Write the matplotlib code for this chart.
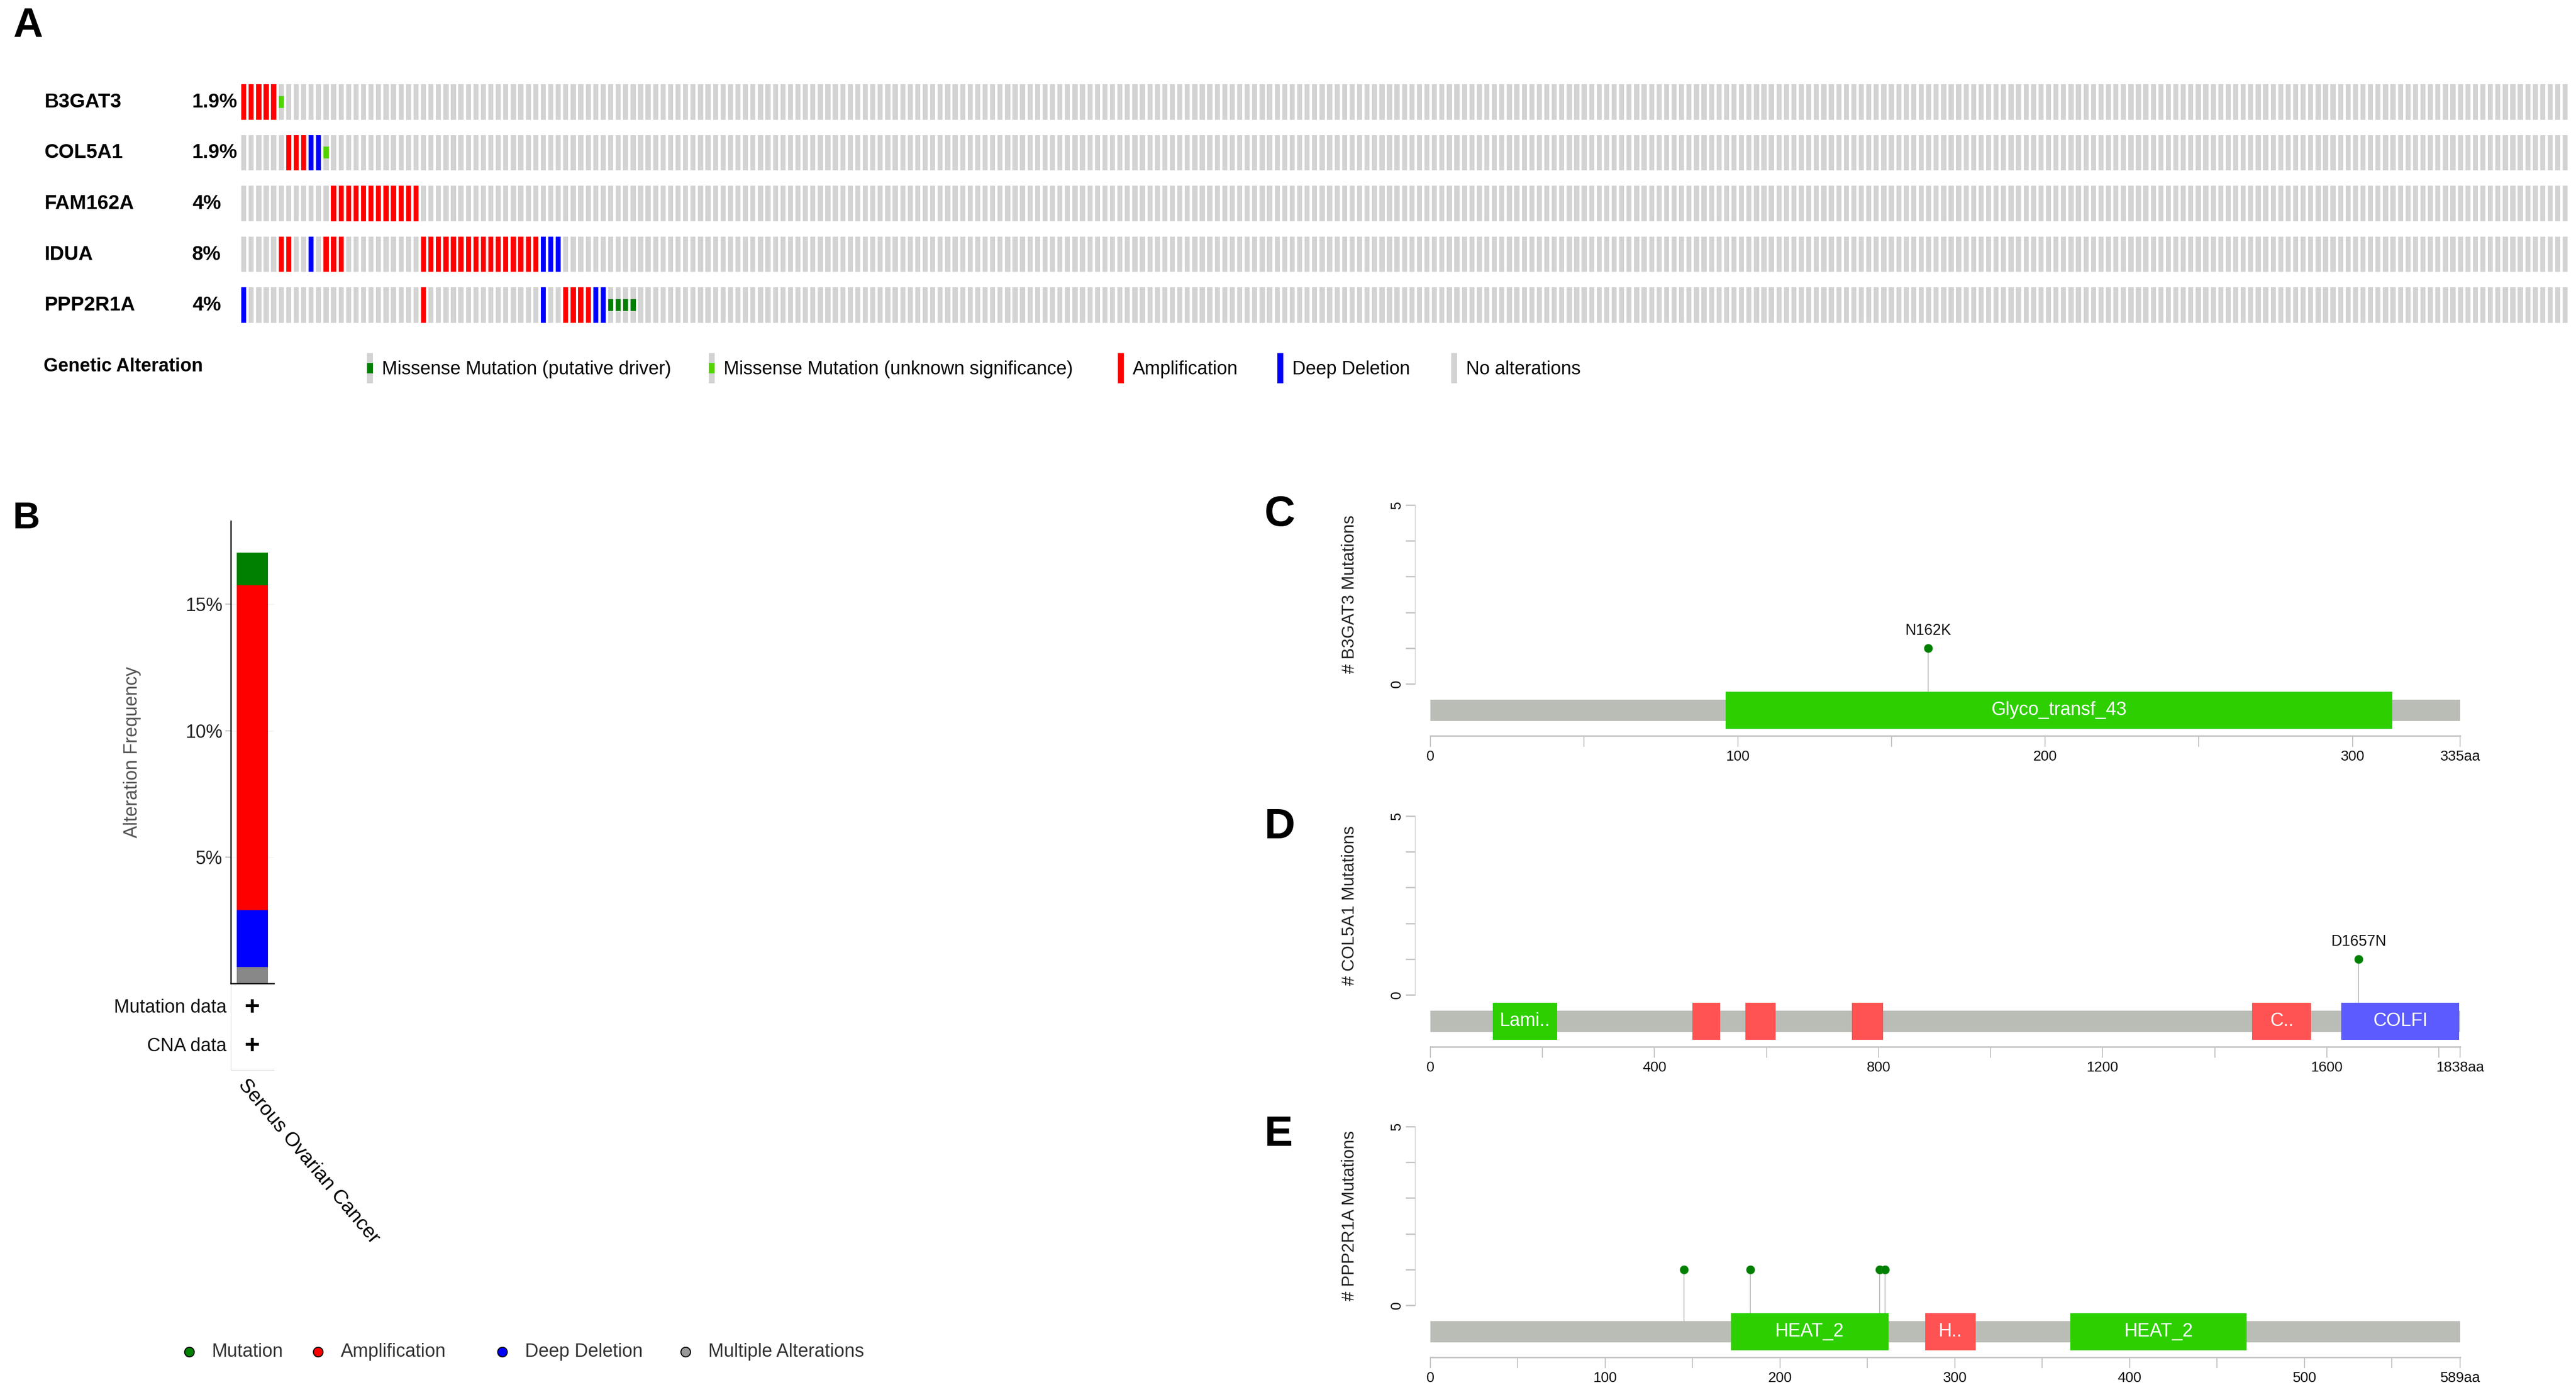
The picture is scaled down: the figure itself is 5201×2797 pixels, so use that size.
import numpy as np
import matplotlib
matplotlib.use('Agg')
from matplotlib import pyplot as plt
from matplotlib.patches import Rectangle

plt.rcParams['font.family'] = ['Liberation Sans', 'DejaVu Sans']

# ---------------- Panel A: oncoprint ----------------
genes = ['B3GAT3', 'COL5A1', 'FAM162A', 'IDUA', 'PPP2R1A']
porcentajes = ['1.9%', '1.9%', '4%', '8%', '4%']
n_muestras = 311
amplificacion = [[0, 1, 2, 3, 4],
                 [6, 7, 8],
                 list(range(12, 24)),
                 [5, 6, 11, 12, 13] + list(range(24, 40)),
                 [24, 43, 44, 45, 46]]
delecion = [[], [9, 10], [], [9, 40, 41, 42], [0, 40, 47, 48]]
mut_driver = [[], [], [], [], [49, 50, 51, 52]]
mut_vus = [[5], [11], [], [], []]

leyenda_a = ['Missense Mutation (putative driver)', 'Missense Mutation (unknown significance)',
             'Amplification', 'Deep Deletion', 'No alterations']

# ---------------- Panel B: resumen por tipo de cancer ----------------
tipos_resumen = ['Multiple Alterations', 'Deep Deletion', 'Amplification', 'Mutation']
frecuencias_resumen = [0.64, 2.25, 12.86, 1.29]   # % de 311 muestras
cancer = 'Serous Ovarian Cancer'
leyenda_b = ['Mutation', 'Amplification', 'Deep Deletion', 'Multiple Alterations']

# ---------------- Paneles C-E: lollipops ----------------
prot_genes = ['B3GAT3', 'COL5A1', 'PPP2R1A']
prot_longitud = [335, 1838, 589]
dominios = [
    [(96, 313, 'Glyco_transf_43')],
    [(111, 226, 'Lami..'), (468, 517, ''), (562, 616, ''), (752, 808, ''),
     (1467, 1572, 'C..'), (1626, 1836, 'COLFI')],
    [(172, 262, 'HEAT_2'), (283, 312, 'H..'), (366, 467, 'HEAT_2')],
]
mut_posiciones = [[162], [1657], [145, 183, 257, 260]]
mut_cuentas = [[1], [1], [1, 1, 1, 1]]
mut_etiquetas = [['N162K'], ['D1657N'], ['', '', '', '']]

# colores
GRIS = '#D3D3D3'
ROJO = '#FF0000'
AZUL = '#0000FF'
VERDE = '#008000'
VERDE_VUS = '#53D400'
colores_resumen = ['#888888', AZUL, ROJO, VERDE]
colores_leyenda_b = [VERDE, ROJO, AZUL, '#999999']
colores_dominio = [['#2DCF00'],
                   ['#2DCF00', '#FF5353', '#FF5353', '#FF5353', '#FF5353', '#5B5BFF'],
                   ['#2DCF00', '#FF5353', '#2DCF00']]

W, H = 5201, 2797
fig = plt.figure(figsize=(W / 100, H / 100), dpi=100)


def rect_px(izq, arriba, ancho, alto):
    return [izq / W, 1 - (arriba + alto) / H, ancho / W, alto / H]


# lienzo en pixeles para textos y leyendas
lienzo = fig.add_axes([0, 0, 1, 1])
lienzo.set_xlim(0, W)
lienzo.set_ylim(H, 0)
lienzo.axis('off')

# etiquetas de panel
for letra, x, y, tam in [('A', 27, 75, 60), ('B', 26, 1067, 55), ('C', 2552, 1062, 62),
                         ('D', 2552, 1693, 62), ('E', 2552, 2314, 62)]:
    lienzo.text(x, y, letra, fontsize=tam, fontweight='bold', ha='left', va='baseline')

# ---- A
ax_a = fig.add_axes(rect_px(487, 170, n_muestras * 15.12, 482))
alto_fila = 0.70
for r in range(len(genes)):
    colores = [GRIS] * n_muestras
    for i in amplificacion[r]:
        colores[i] = ROJO
    for i in delecion[r]:
        colores[i] = AZUL
    ax_a.bar(np.arange(n_muestras), alto_fila, bottom=r, width=0.68, align='edge', color=colores, lw=0)
    if mut_driver[r]:
        ax_a.bar(mut_driver[r], alto_fila / 3, bottom=r + alto_fila / 3, width=0.68, align='edge',
                 color=VERDE, lw=0)
    if mut_vus[r]:
        ax_a.bar(mut_vus[r], alto_fila / 3, bottom=r + alto_fila / 3, width=0.68, align='edge',
                 color=VERDE_VUS, lw=0)
    y_txt = 170 + (r + alto_fila / 2) * 102.55
    lienzo.text(89, y_txt, genes[r], fontsize=29, fontweight='bold', va='center')
    lienzo.text(388, y_txt, porcentajes[r], fontsize=29, fontweight='bold', va='center')
ax_a.set_xlim(0, n_muestras)
ax_a.set_ylim(len(genes) - 1 + alto_fila, 0)
ax_a.axis('off')

lienzo.text(88, 740, 'Genetic Alteration', fontsize=27, fontweight='bold', va='center')
glifo_x = [741, 1431, 2257, 2579, 2930]
glifo_col = [GRIS, GRIS, ROJO, AZUL, GRIS]
glifo_mut = [VERDE, VERDE_VUS, None, None, None]
for x, col, mcol, txt in zip(glifo_x, glifo_col, glifo_mut, leyenda_a):
    lienzo.add_patch(Rectangle((x, 713), 12, 61, color=col, lw=0))
    if mcol:
        lienzo.add_patch(Rectangle((x, 713 + 61 / 3), 12, 61 / 3, color=mcol, lw=0))
    lienzo.text(x + 30, 746, txt, fontsize=27, va='center')

# ---- B
ax_b = fig.add_axes(rect_px(466, 1052, 87, 934))
base = np.concatenate([[0], np.cumsum(frecuencias_resumen)[:-1]])
ax_b.bar([0] * len(frecuencias_resumen), frecuencias_resumen, bottom=base, width=0.724,
         color=colores_resumen, lw=0, zorder=2)
ax_b.set_xlim(-0.5, 0.5)
ax_b.set_ylim(0, 18.3)
ax_b.set_yticks([5, 10, 15])
ax_b.set_yticklabels(['5%', '10%', '15%'])
ax_b.set_xticks([])
ax_b.tick_params(axis='y', labelsize=27, colors='#bbbbbb', labelcolor='#222222', length=8, width=1.5, pad=4)
ax_b.yaxis.grid(color='#eeeeee', lw=1)
ax_b.set_axisbelow(True)
for lado in ['top', 'right']:
    ax_b.spines[lado].set_visible(False)
for lado in ['left', 'bottom']:
    ax_b.spines[lado].set_linewidth(1.8)
    ax_b.spines[lado].set_color('black')

lienzo.text(267, 1519, 'Alteration Frequency', fontsize=27, color='#555555', rotation=90,
            ha='center', va='center')
lienzo.text(457, 2035, 'Mutation data', fontsize=27, ha='right', va='center', color='#111111')
lienzo.text(457, 2113, 'CNA data', fontsize=27, ha='right', va='center', color='#111111')
lienzo.text(509, 2035, '+', fontsize=38, fontweight='bold', ha='center', va='center')
lienzo.text(509, 2113, '+', fontsize=38, fontweight='bold', ha='center', va='center')
lienzo.plot([466, 466, 553], [1986, 2161, 2161], color='#dddddd', lw=1)
lienzo.text(503, 2172, cancer, fontsize=29, rotation=-50, rotation_mode='anchor', ha='left', va='top')

for x, col, txt in zip([382, 642, 1014, 1384], colores_leyenda_b, leyenda_b):
    lienzo.plot(x, 2730, 'o', ms=14, mfc=col, mec='black', mew=1.5)
    lienzo.text(x + 46, 2730, txt, fontsize=27, color='#333333', va='center')

# ---- C, D, E
unidad = 72.2
ejes_y0 = [1381, 2009, 2636]
pasos = [(50, 100), (200, 400), (50, 100)]
for k in range(len(prot_genes)):
    y0 = ejes_y0[k]
    L = prot_longitud[k]
    ax = fig.add_axes(rect_px(2888, y0 - 5.3 * unidad, 4967 - 2888, 6.76 * unidad))
    ax.set_xlim(0, L)
    ax.set_ylim(-1.46, 5.3)
    ax.patch.set_alpha(0)
    ax.add_patch(Rectangle((0, -1.039), L, 0.596, color='#BABDB6', lw=0, zorder=1))
    for (ini, fin, nombre), col in zip(dominios[k], colores_dominio[k]):
        ax.add_patch(Rectangle((ini, -1.26), fin - ini, 1.038, color=col, lw=0, zorder=3))
        if nombre:
            ax.text((ini + fin) / 2, -0.74, nombre, color='white', fontsize=27,
                    ha='center', va='center', zorder=4)
    for pos, cnt, et in zip(mut_posiciones[k], mut_cuentas[k], mut_etiquetas[k]):
        fondo = -0.443
        for ini, fin, _ in dominios[k]:
            if ini <= pos <= fin:
                fondo = -0.222
        ax.plot([pos, pos], [fondo, cnt], color='#BBBBBB', lw=1.3, zorder=2)
        ax.plot(pos, cnt, 'o', ms=12, mfc=VERDE, mec='#1a8a1a', mew=0.8, zorder=5)
        if et:
            ax.text(pos, cnt + 0.48, et, fontsize=22, ha='center', va='center', color='#111111')

    ax.spines['top'].set_visible(False)
    ax.spines['right'].set_visible(False)
    ax.spines['left'].set_position(('outward', 22.3))
    ax.spines['left'].set_bounds(0, 5)
    ax.spines['left'].set_color('#cccccc')
    ax.spines['left'].set_linewidth(1)
    ax.spines['bottom'].set_color('#c4c4c4')
    ax.spines['bottom'].set_linewidth(2.2)
    ax.set_yticks(range(6))
    ax.set_yticklabels(['0', '', '', '', '', '5'], rotation=90, va='center')
    ax.tick_params(axis='y', labelsize=21, colors='#c4c4c4', labelcolor='#111111', length=14, width=2, pad=3)

    paso, paso_et = pasos[k]
    xt = list(np.arange(0, L, paso)) + [L]
    xl = [str(int(t)) if t % paso_et == 0 else '' for t in xt[:-1]] + ['%daa' % L]
    ax.set_xticks(xt)
    ax.set_xticklabels(xl)
    ax.tick_params(axis='x', labelsize=21, colors='#c4c4c4', labelcolor='#111111', length=16, width=1.5, pad=4)

    lienzo.text(2724, y0 - 2.5 * unidad, '# %s Mutations' % prot_genes[k], fontsize=25, rotation=90,
                ha='center', va='center', color='#222222')

fig.savefig('out.png', dpi=100)
